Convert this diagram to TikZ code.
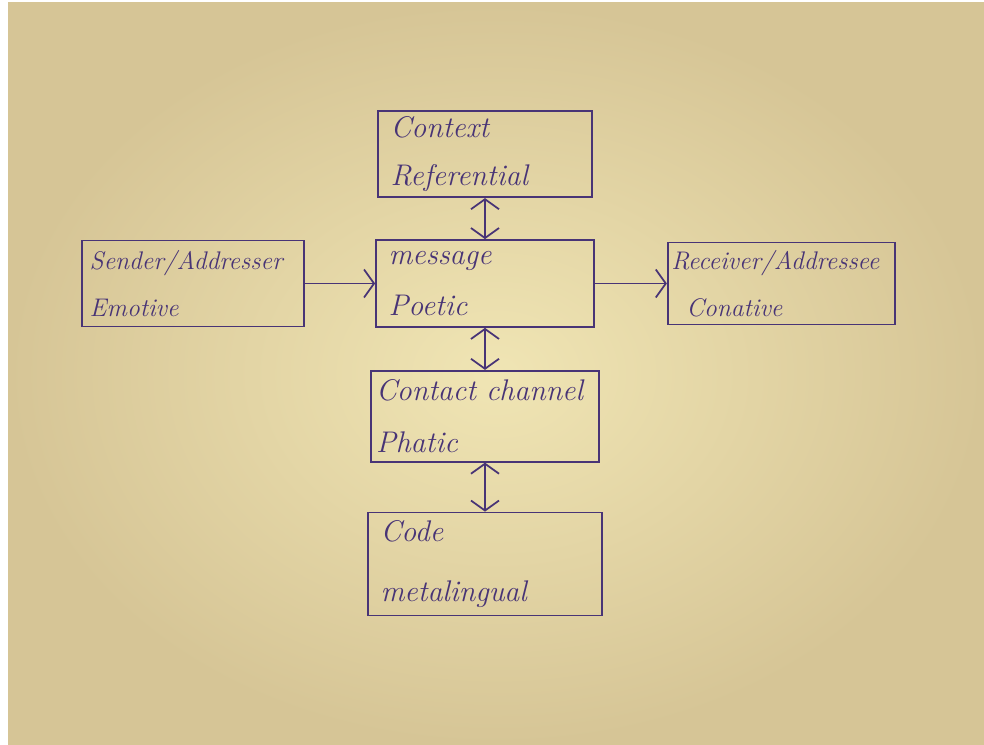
\documentclass[tikz,border=0pt]{standalone}
\usepackage{tikz}
\usetikzlibrary{positioning}
\usetikzlibrary{arrows.meta}
\definecolor{ink}{RGB}{72,52,118}
\definecolor{papermid}{RGB}{240,229,180}
\definecolor{paperedge}{RGB}{214,197,150}

\begin{document}
\begin{tikzpicture}[
            > = {Straight Barb[length=2mm,width=5.6mm]}, % open v heads
            line width = 1pt,
            draw = ink
        ]

        \tikzstyle{box}=[
            draw = ink,
            align = left,
            inner xsep = 2.5mm,
            text = ink,
            font = \itshape\fontsize{17}{20}\selectfont
        ]
        \tikzstyle{small}=[font = \itshape\fontsize{14.5}{17}\selectfont]

        % paper
        \fill[white] (0,0) rectangle (19.68,-14.9);
        \shade[inner color=papermid, outer color=paperedge]
            (0.16,-0.06) rectangle (19.68,-14.9);
        \useasboundingbox (0,0) rectangle (19.68,-14.9);

	% middle row
        \node[box, text width=3.86cm, minimum height=1.74cm] (msg) at (9.7,-5.67) {message\\[0.3cm]Poetic};
        \node[box, small, text width=4.14cm, minimum height=1.72cm, inner xsep=1.5mm] (snd) [left=1.4cm of msg] {Sender/Addresser\\[0.35cm]Emotive};
        \node[box, small, text width=4.4cm, minimum height=1.64cm, inner xsep=0.7mm] (rcv) [right=1.44cm of msg] {Receiver/Addressee\\[0.35cm]\hspace{3mm}Conative};

        \path[->, ink] (snd) edge (msg);
        \path[->, ink] (msg) edge (rcv);

         % column
         \node[box, text width=3.78cm, minimum height=1.64cm] (ctx) [above=0.82cm of msg] {Context\\[0.25cm]Referential};
         \node[box, text width=4.36cm, minimum height=1.82cm, inner xsep=1mm] (cnt) [below=0.84cm of msg] {Contact channel\\[0.35cm]Phatic};
         \node[box, text width=4.18cm, minimum height=2.06cm] (code) [below=0.98cm of cnt] {Code\\[0.5cm]metalingual};

         \path[<->, ink] (ctx) edge (msg);
         \path[<->, ink] (msg) edge (cnt);
         \path[<->, ink] (cnt) edge (code);

  \end{tikzpicture}
\end{document}
